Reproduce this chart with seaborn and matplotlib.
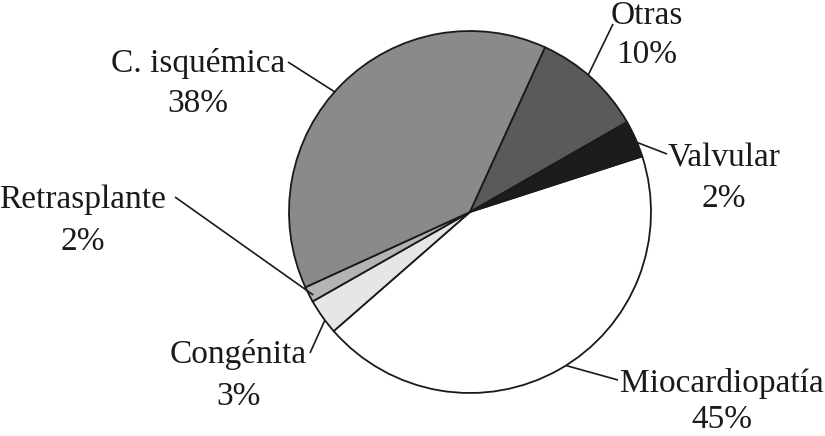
import numpy as np
import matplotlib
matplotlib.use("Agg")
import matplotlib.pyplot as plt
import seaborn as sns

# Causes (clockwise from the right), printed labels and slice shares
causas = ["Miocardiopatía", "Congénita", "Retrasplante", "C. isquémica", "Otras", "Valvular"]
etiquetas = ["45%", "3%", "2%", "38%", "10%", "2%"]
partes = [43.5, 3.2, 1.4, 38.6, 9.9, 3.3]
grises = ["#ffffff", "#e6e6e6", "#b4b4b4", "#8a8a8a", "#5a5a5a", "#1c1c1c"]

# Label layout in pixels (origin top-left): text centre x, name baseline, pct baseline
texto_x = [722, 238, 83, 198, 647, 724]
nombre_y = [392, 363, 208, 72, 24, 166]
pct_y = [428, 405, 250, 112, 63, 207]
# Leader lines: angle on the pie (deg), radius fraction, outer end (px)
guia_ang = [-58.0, 216.7, 207.9, 138.4, 49.2, 22.6]
guia_r = [1.0, 1.0, 0.98, 1.0, 1.0, 1.0]
guia_fin = [(618, 380), (310, 353), (175, 197), (288, 62), (613, 24), (667, 154)]

W, H = 825, 436
cx, cy, R = 470, 212, 181

sns.set_theme(style="white")
plt.rcParams['font.family'] = ['Liberation Serif', 'DejaVu Serif']

fig = plt.figure(figsize=(8.25, 4.36), dpi=100)
ax = fig.add_axes([0, 0, 1, 1])

# Pie
ax.pie(partes, colors=grises, startangle=17.9, counterclock=False,
       center=(cx, H - cy), radius=R,
       wedgeprops=dict(edgecolor="#1a1a1a", linewidth=1.3))
ax.set_xlim(0, W)
ax.set_ylim(0, H)
ax.set_aspect("equal")
ax.axis("off")

# Labels and leader lines
for i, nombre in enumerate(causas):
    a = np.deg2rad(guia_ang[i])
    x0 = cx + guia_r[i] * R * np.cos(a)
    y0 = (H - cy) + guia_r[i] * R * np.sin(a)
    x1, y1 = guia_fin[i]
    ax.plot([x0, x1], [y0, H - y1], color="#1a1a1a", lw=1.2,
            solid_capstyle="butt", zorder=5)
    ax.text(texto_x[i], H - nombre_y[i], nombre, fontsize=24,
            ha="center", va="baseline", color="#1a1a1a")
    ax.text(texto_x[i], H - pct_y[i], etiquetas[i], fontsize=24,
            ha="center", va="baseline", color="#1a1a1a")

fig.savefig("out.png", dpi=100)
